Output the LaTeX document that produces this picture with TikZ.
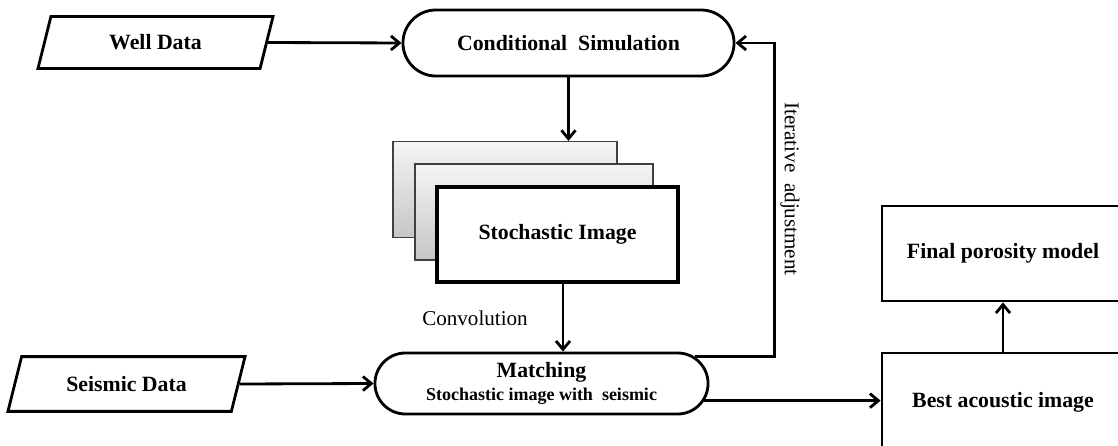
\documentclass[tikz,border=0pt]{standalone}
\usepackage{fontspec}
\setmainfont{Liberation Serif}
\usetikzlibrary{arrows.meta, positioning, shapes.geometric, shapes.misc, calc}

\begin{document}
\begin{tikzpicture}[
    x=0.025cm, y=-0.025cm,
    lbl/.style={font=\fontsize{15.5}{18}\selectfont\bfseries},
    datain/.style={draw, line width=2pt, trapezium, trapezium left angle=76, trapezium right angle=104,
        trapezium stretches body, inner xsep=0pt, lbl},
    proc/.style={draw, line width=2pt, rounded rectangle, inner sep=0pt, align=center},
    box/.style={draw, line width=2pt, minimum width=6.05cm, inner sep=0pt, lbl},
    backpage/.style={draw=black!75, line width=0.8pt, top color=gray!8, bottom color=gray!45,
        minimum width=5.6cm, minimum height=2.4cm, inner sep=0pt},
    arr/.style={-{Straight Barb[length=6pt, width=10pt]}, line width=2pt},
    note/.style={font=\fontsize{15}{18}\selectfont},
]

\useasboundingbox (0,0) rectangle (1118,446);
\clip (0,0) rectangle (1118,446);

% ── Inputs ──
\node[datain, minimum width=5.875cm, inner ysep=13pt] (well) at (155.5,42.5) {Well Data};
\node[datain, minimum width=5.925cm, inner ysep=14pt] (seis) at (126.5,384) {Seismic Data};

% ── Processes ──
\node[proc, lbl, minimum width=8.275cm, minimum height=1.65cm] (cosim) at (568.5,43) {Conditional\ \ Simulation};
\node[proc, minimum width=8.325cm, minimum height=1.525cm] (match) at (541.5,383.5)
    {{\fontsize{15.5}{17}\selectfont\bfseries Matching}\\[3pt]
     {\fontsize{12.8}{15}\selectfont\bfseries Stochastic image with\ \ seismic}};

% ── Stack of realisations ──
\node[backpage] (page1) at (505,189.5) {};
\node[backpage, minimum width=5.95cm] (page2) at (534,212) {};
\node[draw, fill=white, line width=2.8pt, minimum width=6.025cm, minimum height=2.375cm, inner sep=0pt, lbl]
    (stoch) at (557.5,234.5) {Stochastic Image};

% ── Outputs ──
\node[box, minimum height=2.375cm] (final) at (1003,253.5) {Final porosity model};
\node[box, minimum height=2.45cm] (best) at (1003,402) {Best acoustic image};

% ── Labels ──
\node[note] (conv) at (475,318) {Convolution};
\node[note, rotate=-90] (iter) at (790,189) {Iterative\ \ adjustment};

% ── Arrows ──
\coordinate (convtop) at ($(stoch.south)+(5.5,0)$);
\draw[arr] (well.east) -- (cosim.west);
\draw[arr] (seis.east) -- (match.west);
\draw[arr] (cosim.south) -- (cosim.south |- page1.north);
\draw[arr] (convtop) -- (convtop |- match.north);
\draw[arr] (match.10) -| ($(cosim.east)+(39,0)$) -- (cosim.east);
\draw[arr] (match.-6) -- (match.-6 -| best.west);
\draw[arr] (best.north) -- (final.south);

\end{tikzpicture}
\end{document}
